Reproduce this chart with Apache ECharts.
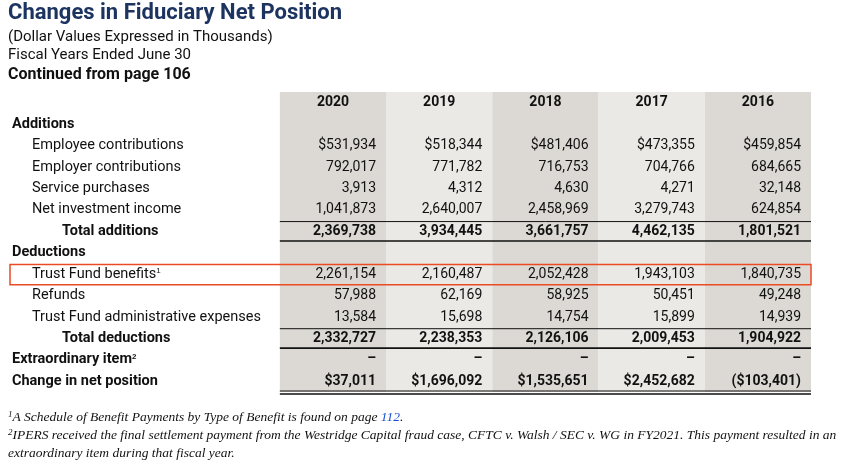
<!DOCTYPE html>
<html><head><meta charset="utf-8">
<script src="https://cdn.jsdelivr.net/npm/echarts@6/dist/echarts.min.js"></script>
<style>html,body{margin:0;background:#fff}#c{width:842px;height:470px}</style>
</head><body><div id="c"></div>
<script>
// ===== 数据 =====
const years = ['2020', '2019', '2018', '2017', '2016'];
const rowLabels = ['', 'Additions', 'Employee contributions', 'Employer contributions', 'Service purchases',
  'Net investment income', 'Total additions', 'Deductions', 'Trust Fund benefits{s|1}', 'Refunds',
  'Trust Fund administrative expenses', 'Total deductions', 'Extraordinary item{sb|2}', 'Change in net position'];
// 每行在各年份的数值（null = 无数值，0 = 破折号）
const employeeContrib = [531934, 518344, 481406, 473355, 459854];
const employerContrib = [792017, 771782, 716753, 704766, 684665];
const servicePurchases = [3913, 4312, 4630, 4271, 32148];
const netInvestment = [1041873, 2640007, 2458969, 3279743, 624854];
const totalAdditions = [2369738, 3934445, 3661757, 4462135, 1801521];
const trustBenefits = [2261154, 2160487, 2052428, 1943103, 1840735];
const refunds = [57988, 62169, 58925, 50451, 49248];
const adminExpenses = [13584, 15698, 14754, 15899, 14939];
const totalDeductions = [2332727, 2238353, 2126106, 2009453, 1904922];
const extraordinary = [0, 0, 0, 0, 0];
const changeNet = [37011, 1696092, 1535651, 2452682, -103401];

const rowValues = [null, null, employeeContrib, employerContrib, servicePurchases, netInvestment, totalAdditions,
  null, trustBenefits, refunds, adminExpenses, totalDeductions, extraordinary, changeNet];
const dollarRows = [2, 13];
const boldRows = [0, 1, 6, 7, 11, 12, 13];
const indent = { 2: 20, 3: 20, 4: 20, 5: 20, 6: 50, 8: 20, 9: 20, 10: 20, 11: 50 };

const LABEL_SPAN = 2.54;
const FONT = "'Liberation Sans Narrow', 'Roboto', sans-serif";
const SERIF = '"Liberation Serif", serif';
const INK = '#111';

function fmt(v, row) {
  if (v === 0) return '–';
  const s = Math.abs(v).toLocaleString('en-US');
  const d = dollarRows.indexOf(row) >= 0 ? '$' : '';
  return v < 0 ? '(' + d + s + ')' : d + s;
}

// 单元格
const cells = [];
years.forEach(function (y, c) { cells.push([c, 0, y]); });
rowValues.forEach(function (vals, r) {
  if (!vals) return;
  vals.forEach(function (v, c) { cells.push([c, r, fmt(v, r)]); });
});
const labels = rowLabels.map(function (t, r) { return [-LABEL_SPAN, r, t]; }).filter(function (d) { return d[2]; });

// 表格横线: [行, 位置(top/bottom), 线宽, 是否双线]
const rules = [[6, 'top', 1, false], [6, 'bottom', 1.6, false], [11, 'top', 1, false], [11, 'bottom', 1.6, false], [13, 'bottom', 1, true]];

const chart = echarts.init(document.getElementById('c'), null, { renderer: 'canvas' });

const rowCats = rowLabels.map(function (_, i) { return 'r' + i; });
const supRich = { n: { fontSize: 9, verticalAlign: 'top', fontStyle: 'italic', fontFamily: SERIF } };

chart.setOption({
  animation: false,
  grid: { left: 10, right: 31, top: 92, bottom: 78 },
  xAxis: { type: 'value', min: -LABEL_SPAN, max: 5, show: false },
  yAxis: { type: 'category', data: rowCats, inverse: true, show: false },
  graphic: [
    { type: 'text', left: 8, top: 2, style: { text: 'Changes in Fiduciary Net Position', font: 'bold 22px ' + FONT, fill: '#1d3461' } },
    { type: 'text', left: 8, top: 30, style: { text: '(Dollar Values Expressed in Thousands)', font: '15px ' + FONT, fill: INK } },
    { type: 'text', left: 8, top: 48, style: { text: 'Fiscal Years Ended June 30', font: '15px ' + FONT, fill: INK } },
    { type: 'text', left: 8, top: 67, style: { text: 'Continued from page 106', font: 'bold 16px ' + FONT, fill: INK } },
    { type: 'text', left: 8, top: 410, style: {
      text: '{n|1}A Schedule of Benefit Payments by Type of Benefit is found on page {l|112}.',
      font: 'italic 13.5px ' + SERIF, fill: INK,
      rich: Object.assign({ l: { fill: '#1a4fd6', fontStyle: 'italic', fontFamily: SERIF, fontSize: 13.5 } }, supRich) } },
    { type: 'text', left: 8, top: 428, style: {
      text: '{n|2}IPERS received the final settlement payment from the Westridge Capital fraud case, CFTC v. Walsh / SEC v. WG in FY2021. This payment resulted in an',
      font: 'italic 13.5px ' + SERIF, fill: INK, rich: supRich } },
    { type: 'text', left: 8, top: 446, style: { text: 'extraordinary item during that fiscal year.', font: 'italic 13.5px ' + SERIF, fill: INK } }
  ],
  series: [
    {
      // 列背景
      type: 'custom', z: 1,
      data: years.map(function (_, i) { return [i, 0]; }),
      renderItem: function (params, api) {
        const p = api.coord([api.value(0), 0]);
        const s = api.size([1, 1]);
        return { type: 'rect', shape: { x: p[0], y: p[1] - s[1] / 2, width: s[0], height: s[1] * rowLabels.length },
          style: { fill: api.value(0) % 2 === 0 ? '#dcd9d4' : '#ebe9e6' } };
      }
    },
    {
      // 横线
      type: 'custom', z: 3,
      data: rules.map(function (r) { return [0, r[0]]; }),
      renderItem: function (params, api) {
        const r = rules[params.dataIndex];
        const p0 = api.coord([0, r[0]]);
        const p1 = api.coord([5, r[0]]);
        const s = api.size([1, 1]);
        const y = p0[1] + (r[1] === 'top' ? -s[1] / 2 + 1 : s[1] / 2 - 1);
        const kids = [{ type: 'line', shape: { x1: p0[0], y1: y, x2: p1[0], y2: y }, style: { stroke: INK, lineWidth: r[2] } }];
        if (r[3]) kids.push({ type: 'line', shape: { x1: p0[0], y1: y + 3, x2: p1[0], y2: y + 3 }, style: { stroke: INK, lineWidth: 1.5 } });
        return { type: 'group', children: kids };
      }
    },
    {
      // 行标签
      type: 'custom', z: 4,
      data: labels,
      renderItem: function (params, api) {
        const d = labels[params.dataIndex];
        const p = api.coord([d[0], d[1]]);
        const bold = boldRows.indexOf(d[1]) >= 0;
        return { type: 'text', x: p[0] + 2 + (indent[d[1]] || 0), y: p[1],
          style: { text: d[2], font: (bold ? 'bold ' : '') + '14.5px ' + FONT, fill: INK, verticalAlign: 'middle',
            rich: { s: { fontSize: 8, verticalAlign: 'top', padding: [0, 0, 6, 0] }, sb: { fontSize: 8, fontWeight: 'bold', padding: [0, 0, 6, 0] } } } };
      }
    },
    {
      // 数值
      type: 'custom', z: 4,
      data: cells,
      renderItem: function (params, api) {
        const d = cells[params.dataIndex];
        const head = d[1] === 0;
        const p = api.coord([d[0] + (head ? 0.5 : 1), d[1]]);
        const bold = boldRows.indexOf(d[1]) >= 0;
        return { type: 'text', x: head ? p[0] : p[0] - 10, y: p[1] + (d[2] === '–' ? -1 : 0),
          style: { text: d[2], font: (bold ? 'bold ' : '') + '14px ' + FONT, fill: INK,
            align: head ? 'center' : 'right', verticalAlign: 'middle' } };
      }
    },
    {
      // 高亮框
      type: 'custom', z: 5,
      data: [[-LABEL_SPAN, 8]],
      renderItem: function (params, api) {
        const p0 = api.coord([-LABEL_SPAN, 8]);
        const p1 = api.coord([5, 8]);
        const s = api.size([1, 1]);
        return { type: 'rect', shape: { x: p0[0], y: p0[1] - s[1] / 2 + 1, width: p1[0] - p0[0], height: s[1] - 1 },
          style: { fill: null, stroke: '#ea4b22', lineWidth: 1.5 } };
      }
    }
  ]
});
</script></body></html>
